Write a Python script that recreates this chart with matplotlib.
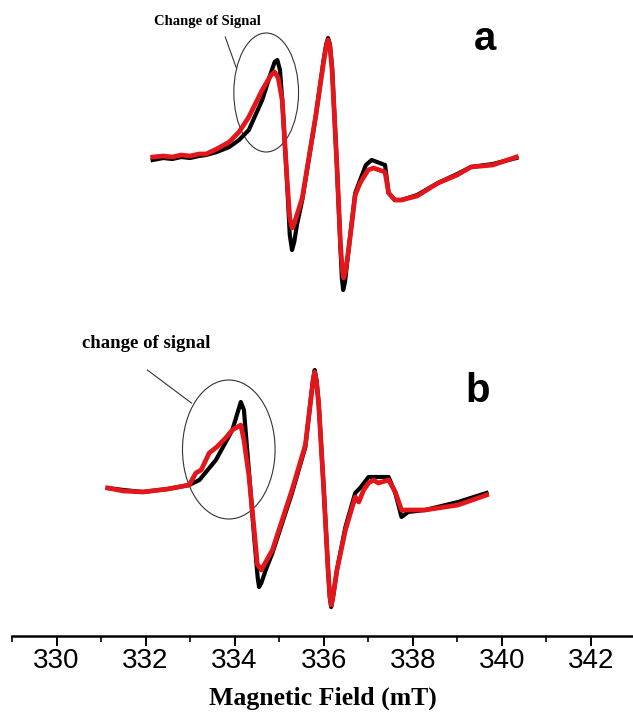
import matplotlib
matplotlib.use("Agg")
import matplotlib.pyplot as plt
from matplotlib.patches import Ellipse
from matplotlib.ticker import MultipleLocator

# ---------------- data (magnetic field in mT, intensity in a.u.) ----------------
field_a_black = [332.16, 332.4, 332.6, 332.8, 333.0, 333.2, 333.36, 333.6, 333.88, 334.1, 334.32,
                 334.62, 334.8, 334.9, 334.96, 335.02, 335.07, 335.18, 335.24, 335.29, 335.34,
                 335.4, 335.52, 335.82, 336.00, 336.06, 336.10, 336.14, 336.19, 336.30, 336.38,
                 336.41, 336.44, 336.48, 336.56, 336.71, 336.82, 336.95, 337.08, 337.38, 337.46,
                 337.6, 337.75, 338.1, 338.57, 339.0, 339.31, 339.8, 340.33]
int_a_black = [0, 2, 1, 3, 2, 4, 5, 8, 13, 20, 30,
               60, 85, 98, 100, 90, 60, -23, -75, -90, -82,
               -65, -40, 43, 100, 116, 122, 116, 93, -7, -90,
               -118, -130, -122, -90, -33, -20, -5, 0, -5, -33,
               -40, -40, -35, -23, -14, -7, -4, 2]

field_a_red = [332.16, 332.4, 332.6, 332.8, 333.0, 333.2, 333.36, 333.6, 333.88, 334.1, 334.32,
               334.62, 334.82, 334.9, 334.98, 335.07, 335.18, 335.24, 335.29, 335.34, 335.4,
               335.52, 335.82, 336.00, 336.06, 336.10, 336.14, 336.19, 336.30, 336.38, 336.42,
               336.45, 336.49, 336.56, 336.71, 336.82, 337.0, 337.12, 337.38, 337.46, 337.6,
               337.75, 338.1, 338.57, 339.0, 339.31, 339.8, 340.33]
int_a_red = [3, 4, 3, 5, 4, 6, 6, 11, 18, 28, 43,
             70, 85, 88, 82, 60, -20, -58, -68, -64, -55,
             -38, 43, 98, 114, 120, 114, 90, -7, -85, -110,
             -118, -112, -90, -35, -23, -10, -8, -12, -33, -40,
             -40, -36, -23, -15, -7, -5, 3]

field_b_black = [331.15, 331.5, 331.94, 332.5, 332.98, 333.21, 333.58, 333.95, 334.14, 334.21,
                 334.32, 334.44, 334.52, 334.55, 334.6, 334.7, 334.85, 335.29, 335.59, 335.76,
                 335.80, 335.84, 335.89, 336.00, 336.10, 336.14, 336.17, 336.21, 336.30, 336.49,
                 336.71, 336.82, 337.01, 337.46, 337.61, 337.75, 337.9, 338.28, 339.02, 339.66]
int_b_black = [0, -2, -4, -1, 3, 8, 28, 58, 86, 78,
               18, -49, -90, -99, -95, -82, -65, -5, 41, 108,
               118, 108, 85, 1, -82, -110, -119, -110, -82, -39,
               -5, 0, 11, 11, -5, -29, -24, -22, -14, -5]

field_b_red = [331.15, 331.5, 331.94, 332.5, 332.98, 333.13, 333.25, 333.43, 333.6, 333.80,
               333.95, 334.14, 334.21, 334.32, 334.44, 334.51, 334.6, 334.85, 335.29, 335.59,
               335.76, 335.80, 335.84, 335.89, 336.00, 336.10, 336.14, 336.17, 336.21, 336.30,
               336.49, 336.71, 336.79, 336.9, 337.01, 337.12, 337.23, 337.46, 337.61, 337.75,
               338.28, 339.02, 339.66]
int_b_red = [0, -3, -4, -1, 3, 15, 18, 35, 41, 50,
             58, 63, 48, 13, -42, -76, -82, -62, -2, 43,
             106, 116, 106, 83, 1, -82, -108, -117, -108, -82,
             -42, -9, -14, -2, 5, 8, 5, 8, -4, -22,
             -22, -17, -7]

offset_a = 476
offset_b = 148

x_ticks = [330, 332, 334, 336, 338, 340, 342]
x_label = "Magnetic Field (mT)"
panel_labels = ["a", "b"]
notes = ["Change of Signal", "change of signal"]

# ---------------- figure ----------------
fig = plt.figure(figsize=(6.33, 7.24), dpi=100)
ax = fig.add_axes([12 / 633, 88 / 724, 1 - 12 / 633, 636 / 724])

black = "#000000"
red = "#e3161b"

ax.plot(field_a_black, [offset_a + v for v in int_a_black], color=black, lw=3.0,
        solid_joinstyle="round")
ax.plot(field_a_red, [offset_a + v for v in int_a_red], color=red, lw=3.4,
        solid_joinstyle="round")
ax.plot(field_b_black, [offset_b + v for v in int_b_black], color=black, lw=3.0,
        solid_joinstyle="round")
ax.plot(field_b_red, [offset_b + v for v in int_b_red], color=red, lw=3.4,
        solid_joinstyle="round")

ax.set_xlim(329.0, 342.95)
ax.set_ylim(0, 636)

for s in ["top", "right", "left"]:
    ax.spines[s].set_visible(False)
ax.spines["bottom"].set_linewidth(1.8)
ax.set_yticks([])
ax.set_xticks(x_ticks)
ax.xaxis.set_minor_locator(MultipleLocator(1))
ax.tick_params(axis="x", which="major", direction="out", length=7.5, width=1.4, pad=1,
               labelsize=20, labelfontfamily="Liberation Sans")
ax.tick_params(axis="x", which="minor", direction="out", length=4, width=1.2)
ax.set_xlabel(x_label, fontsize=18.5, fontweight="bold", family="Liberation Serif",
              labelpad=9)

# panel letters
ax.text(339.63, 597, panel_labels[0], fontsize=29, fontweight="bold",
        family="Liberation Sans", ha="center", va="center")
ax.text(339.45, 245, panel_labels[1], fontsize=29, fontweight="bold",
        family="Liberation Sans", ha="center", va="center")

# annotations
ax.text(333.38, 614, notes[0], fontsize=10.5, fontweight="bold",
        family="Liberation Serif", ha="center", va="center")
ax.plot([333.79, 334.04], [599, 568], color="#333333", lw=0.8)
ax.add_patch(Ellipse((334.71, 543.5), 1.454, 119, fill=False, ec="#333333", lw=0.8))

ax.text(332.02, 292.5, notes[1], fontsize=13.5, fontweight="bold",
        family="Liberation Serif", ha="center", va="center")
ax.plot([332.04, 333.03], [266, 233], color="#333333", lw=0.8)
ax.add_patch(Ellipse((333.87, 186.5), 2.08, 139, fill=False, ec="#333333", lw=0.8))

fig.savefig("out.png", dpi=100)
